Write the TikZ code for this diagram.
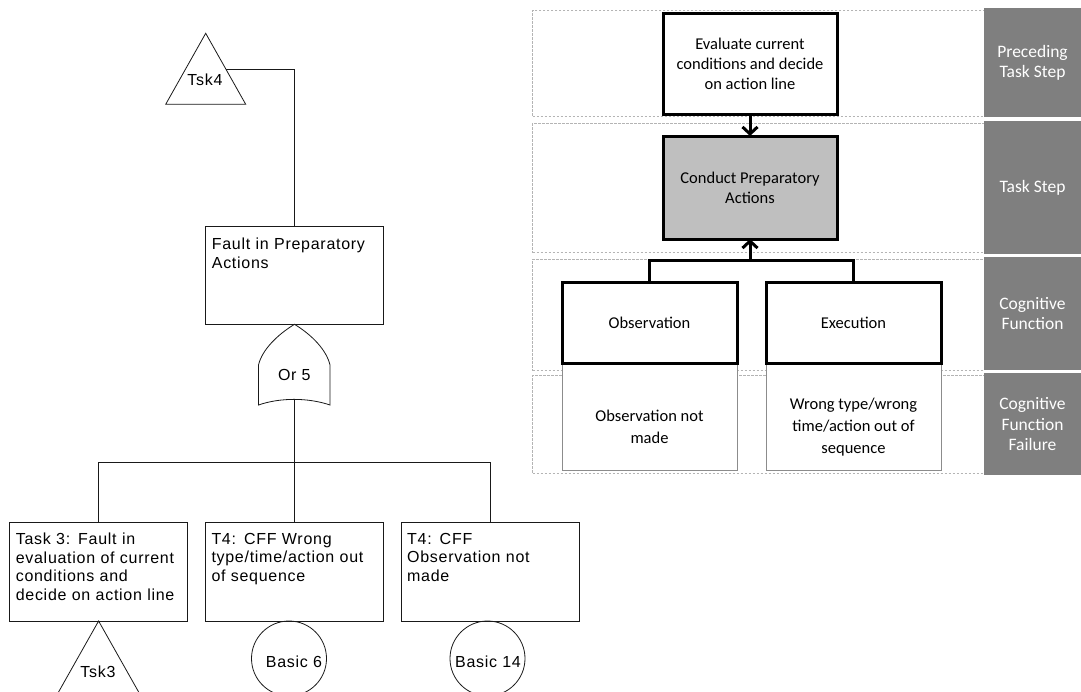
\documentclass[tikz,border=0pt]{standalone}
\usepackage{fontspec}
\setmainfont{Liberation Sans}
\newfontfamily\treefont[LetterSpace=4.5]{Liberation Sans}
\newfontfamily\lanefont{Carlito}
\usetikzlibrary{arrows.meta}
\definecolor{tagGray}{HTML}{7F7F7F}
\definecolor{stepGray}{HTML}{BFBFBF}
\definecolor{laneGray}{HTML}{B4B4B4}
\definecolor{cffGray}{HTML}{8C8C8C}

\begin{document}
\begin{tikzpicture}[x=1pt,y=-1pt,
  ftline/.style={draw=black!90, line width=0.8pt},
  ftbox/.style={draw=black!90, line width=0.8pt, rectangle, anchor=north west, inner sep=0pt, outer sep=0pt, minimum width=178pt, minimum height=99pt},
  fttext/.style={anchor=north west, inner sep=0pt, text width=174pt, align=left, font=\treefont\fontsize{16}{18.5}\selectfont},
  ftlabel/.style={inner sep=0pt, font=\treefont\fontsize{16}{18.5}\selectfont},
  lane/.style={draw=laneGray, dash pattern=on 2.5pt off 1.5pt, line width=0.7pt, rectangle, anchor=north west, inner sep=0pt, outer sep=0pt, minimum width=451.3pt},
  tag/.style={fill=tagGray, text=white, anchor=north west, inner sep=0pt, outer sep=0pt, minimum width=97pt, align=center, font=\lanefont\fontsize{17.5}{20.5}\selectfont},
  stepbox/.style={draw=black, line width=3pt, rectangle, anchor=north west, inner sep=0pt, outer sep=0pt, minimum width=174pt, align=center, font=\lanefont\fontsize{16.5}{20}\selectfont},
  cffbox/.style={draw=cffGray, line width=1pt, fill=white, rectangle, anchor=north west, inner sep=0pt, outer sep=0pt, minimum width=175pt, minimum height=107pt},
  cfftext/.style={inner sep=0pt, align=center, font=\lanefont\fontsize{16.5}{22}\selectfont},
  flow/.style={draw=black, line width=3pt, -{Straight Barb[length=7pt,width=15pt]}},
]
\useasboundingbox (0,0) rectangle (1081,691);

% ---------------- fault tree ----------------
% transfer-in triangle Tsk4
\coordinate (t4apex) at (205.7,33.3);
\coordinate (t4l) at (165.7,104.3);
\coordinate (t4r) at (245.7,104.3);
\draw[ftline] (t4apex) -- (t4r) -- (t4l) -- cycle;
\node[ftlabel] (tsk4) at (205,80) {Tsk4};
\coordinate (t4out) at (226,69.3);

% top event
\node[ftbox, minimum width=177.6pt, minimum height=98pt] (fault) at (205.7,226.3) {};
\node[fttext] (faultt) at ([shift={(6,11.5)}]fault.north west) {Fault in Preparatory\\Actions};
\draw[ftline] (t4out) -| (fault.north);

% OR gate
\coordinate (gtop) at (fault.south);
\draw[ftline] (gtop) .. controls (277,335) and (262,350) .. (258.5,365) -- (258.5,405)
  .. controls (280,397.5) and (308,397.5) .. (330,405) -- (330,365)
  .. controls (326.5,350) and (312,335) .. (gtop);
\node[ftlabel] (or5) at (294.3,375) {Or 5};
\coordinate (gout) at (294.3,399.4);

% basic and intermediate events
\node[ftbox] (b1) at (9.6,522) {};
\node[ftbox] (b2) at (205.3,522) {};
\node[ftbox] (b3) at (401,522) {};
\node[fttext] (b1t) at ([shift={(6,11)}]b1.north west) {Task 3: Fault in\\evaluation of current\\conditions and\\decide on action line};
\node[fttext] (b2t) at ([shift={(6,11)}]b2.north west) {T4: CFF Wrong\\type/time/action out\\of sequence};
\node[fttext] (b3t) at ([shift={(6,11)}]b3.north west) {T4: CFF\\Observation not\\made};

\coordinate (bar) at (294.3,462.3);
\draw[ftline] (gout) -- (b2.north);
\draw[ftline] (b1.north) |- (bar) -| (b3.north);

% transfer-in triangle Tsk3
\coordinate (t3l) at (56.3,696);
\coordinate (t3r) at (140.9,696);
\draw[ftline] (t3l) -- (b1.south) -- (t3r);
\node[ftlabel] (tsk3) at (98,671.7) {Tsk3};

% basic event circles
\node[draw=black!90, line width=0.8pt, circle, minimum size=75pt, inner sep=0pt] (c6) at (289,658.5) {};
\node[ftlabel] (c6t) at (294,661.7) {Basic 6};
\node[draw=black!90, line width=0.8pt, circle, minimum size=75pt, inner sep=0pt] (c14) at (487.5,658.5) {};
\node[ftlabel] (c14t) at (488,661.7) {Basic 14};

% ---------------- task analysis lanes ----------------
\node[lane, minimum height=106pt] (lane1) at (532.7,10) {};
\node[lane, minimum height=129.4pt] (lane2) at (532.7,123.3) {};
\node[lane, minimum height=111.4pt] (lane3) at (532.7,259.3) {};
\node[lane, minimum height=98.3pt] (lane4) at (532.7,375) {};

\node[tag, minimum height=109pt] (tag1) at (984,8.3) {Preceding\\Task Step};
\node[tag, minimum height=133.3pt] (tag2) at (984,120.7) {Task Step};
\node[tag, minimum height=112.7pt] (tag3) at (984,257.3) {Cognitive\\Function};
\node[tag, minimum height=101.7pt] (tag4) at (984,373.3) {Cognitive\\Function\\Failure};

% cognitive function failures
\node[cffbox] (cffobs) at (562,363) {};
\node[cffbox] (cffexe) at (766,363) {};
\node[cfftext] (cffobst) at ([shift={(0,10.5)}]cffobs.center) {Observation not\\made};
\node[cfftext] (cffexet) at ([shift={(0,10.5)}]cffexe.center) {Wrong type/wrong\\time/action out of\\sequence};

% task steps and cognitive functions
\node[stepbox, minimum height=101pt] (eval) at (663,13) {Evaluate current\\conditions and decide\\on action line};
\node[stepbox, fill=stepGray, minimum height=103pt] (cond) at (663,136) {Conduct Preparatory\\Actions};
\node[stepbox, fill=white, minimum width=175pt, minimum height=81pt] (obs) at (562,282) {Observation};
\node[stepbox, fill=white, minimum width=175pt, minimum height=81pt] (exe) at (766,282) {Execution};

\coordinate (brk) at (750,260.7);
\draw[line width=3pt] (obs.north) |- (brk) -| (exe.north);
\draw[flow] (brk) -- (cond.south);
\draw[flow] (eval.south) -- (cond.north);
\end{tikzpicture}
\end{document}
